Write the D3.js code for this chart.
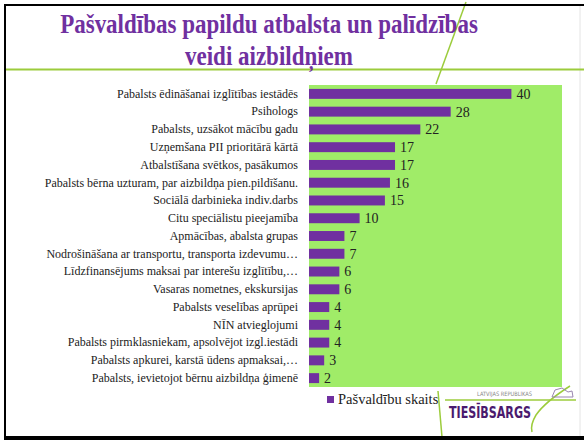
<!DOCTYPE html>
<html>
<head>
<meta charset="utf-8">
<script src="https://cdn.jsdelivr.net/npm/d3@7"></script>
<style>
body { margin: 0; background: #fff; }
svg { display: block; }
.serif { font-family: "Liberation Serif", "Times New Roman", Times, serif; }
</style>
</head>
<body>
<div id="chart"></div>
<script>
var w = 584;
var h = 440;

var title = ["Pašvaldības papildu atbalsta un palīdzības", "veidi aizbildņiem"];
var categories = [
	"Pabalsts ēdināšanai izglītības iestādēs",
	"Psihologs",
	"Pabalsts, uzsākot mācību gadu",
	"Uzņemšana PII prioritārā kārtā",
	"Atbalstīšana svētkos, pasākumos",
	"Pabalsts bērna uzturam, par aizbildņa pien.pildīšanu.",
	"Sociālā darbinieka indiv.darbs",
	"Citu speciālistu pieejamība",
	"Apmācības, abalsta grupas",
	"Nodrošināšana ar transportu, transporta izdevumu…",
	"Līdzfinansējums maksai par interešu izglītību,…",
	"Vasaras nometnes, ekskursijas",
	"Pabalsts veselības aprūpei",
	"NĪN atvieglojumi",
	"Pabalsts pirmklasniekam, apsolvējot izgl.iestādi",
	"Pabalsts apkurei, karstā ūdens apmaksai,…",
	"Pabalsts, ievietojot bērnu aizbildņa ģimenē"
];
var values = [40, 28, 22, 17, 17, 16, 15, 10, 7, 7, 6, 6, 4, 4, 4, 3, 2];
var seriesName = "Pašvaldību skaits";

var purple = "#7030a0";
var plotGreen = "#a0ec68";
var lineGreen = "#9ccc3c";

var svg = d3.select("#chart")
			.append("svg")
			.attr("width", w)
			.attr("height", h);

// slide frame
svg.append("rect").attr("x", 0).attr("y", 0).attr("width", w).attr("height", h).attr("fill", "#fff");
svg.append("line").attr("x1", 580).attr("x2", 580).attr("y1", 6).attr("y2", 436)
	.attr("stroke", "#e4e4e4").attr("stroke-width", 1);

// decorative green lines
svg.append("line").attr("x1", 5).attr("x2", w).attr("y1", 69.5).attr("y2", 69.5)
	.attr("stroke", lineGreen).attr("stroke-width", 2);
svg.append("line").attr("x1", 466).attr("y1", 2).attr("x2", 436).attr("y2", 84)
	.attr("stroke", lineGreen).attr("stroke-width", 1.5);

// title (slightly stretched vertically, like the slide)
svg.append("g")
	.attr("transform", "translate(0,0) scale(1,1.15)")
	.append("text")
	.attr("class", "serif")
	.attr("text-anchor", "middle")
	.style("font-weight", "bold")
	.style("font-size", "23px")
	.attr("fill", purple)
	.selectAll("tspan")
	.data(title)
	.enter()
	.append("tspan")
	.attr("x", 269)
	.attr("y", function(d, i) { return (33 + i * 32) / 1.15; })
	.text(function(d) { return d; });

var xScale = d3.scaleLinear()
			   .domain([0, 50])
			   .range([309, 562]);

var yScale = d3.scaleBand()
			   .domain(categories)
			   .range([85, 387])
			   .paddingInner(0.44)
			   .paddingOuter(0.22);

// plot area
svg.append("rect")
	.attr("x", xScale(0))
	.attr("y", 85)
	.attr("width", xScale(50) - xScale(0))
	.attr("height", 302)
	.attr("fill", plotGreen);

svg.selectAll("rect.bar")
	.data(values)
	.enter()
	.append("rect")
	.attr("class", "bar")
	.attr("x", xScale(0))
	.attr("y", function(d, i) { return yScale(categories[i]); })
	.attr("width", function(d) { return xScale(d) - xScale(0); })
	.attr("height", yScale.bandwidth())
	.attr("fill", purple);

svg.selectAll("text.val")
	.data(values)
	.enter()
	.append("text")
	.attr("class", "val serif")
	.attr("x", function(d) { return xScale(d) + 5; })
	.attr("y", function(d, i) { return yScale(categories[i]) + yScale.bandwidth() / 2; })
	.attr("dy", "0.35em")
	.style("font-size", "14px")
	.attr("fill", "#222")
	.text(function(d) { return d; });

var yAxis = d3.axisLeft(yScale).tickSize(0).tickPadding(0);
var gy = svg.append("g")
	.attr("transform", "translate(298,0)")
	.call(yAxis);
gy.select(".domain").remove();
gy.selectAll("text")
	.attr("class", "serif")
	.style("font-size", "12px")
	.attr("fill", "#222");

// legend
svg.append("rect").attr("x", 327).attr("y", 396).attr("width", 7).attr("height", 7).attr("fill", purple);
svg.append("text")
	.attr("class", "serif")
	.attr("x", 338)
	.attr("y", 404)
	.style("font-size", "14.5px")
	.attr("fill", "#222")
	.text(seriesName);

// logo
var logo = svg.append("g");
logo.append("line").attr("x1", 445).attr("x2", 576).attr("y1", 400).attr("y2", 400)
	.attr("stroke", lineGreen).attr("stroke-width", 1.5);
logo.append("path").attr("d", "M438,391 Q440,415 442,437")
	.attr("fill", "none").attr("stroke", lineGreen).attr("stroke-width", 1.5);
logo.append("path").attr("d", "M570,386 Q545,402 536,415 Q530,425 532,432")
	.attr("fill", "none").attr("stroke", lineGreen).attr("stroke-width", 1.5);
logo.append("path").attr("d", "M552,397 L555,390 L562,388 L568,392 L572,391 L573,397 Z")
	.attr("fill", "none").attr("stroke", "#9a86b0").attr("stroke-width", 1);
logo.append("text")
	.attr("x", 477).attr("y", 396)
	.attr("textLength", 55)
	.attr("lengthAdjust", "spacingAndGlyphs")
	.style("font-family", "'Liberation Sans Narrow', 'DejaVu Sans Condensed', sans-serif")
	.style("font-size", "6px")
	.attr("fill", "#888")
	.text("LATVIJAS REPUBLIKAS");
logo.append("text")
	.attr("x", 449).attr("y", 418)
	.attr("textLength", 82)
	.attr("lengthAdjust", "spacingAndGlyphs")
	.style("font-family", "'DejaVu Sans Condensed', 'Liberation Sans Narrow', sans-serif")
	.style("font-weight", "bold")
	.style("font-size", "15px")
	.attr("fill", "#4a1a6e")
	.text("TIESĪBSARGS");

// black frame edges
svg.append("rect").attr("x", 4).attr("y", 4).attr("width", w - 4).attr("height", 2).attr("fill", "#000");
svg.append("rect").attr("x", 4).attr("y", 4).attr("width", 2).attr("height", h - 4).attr("fill", "#000");
svg.append("rect").attr("x", 4).attr("y", 436).attr("width", w - 4).attr("height", 4).attr("fill", "#000");
</script>
</body>
</html>
